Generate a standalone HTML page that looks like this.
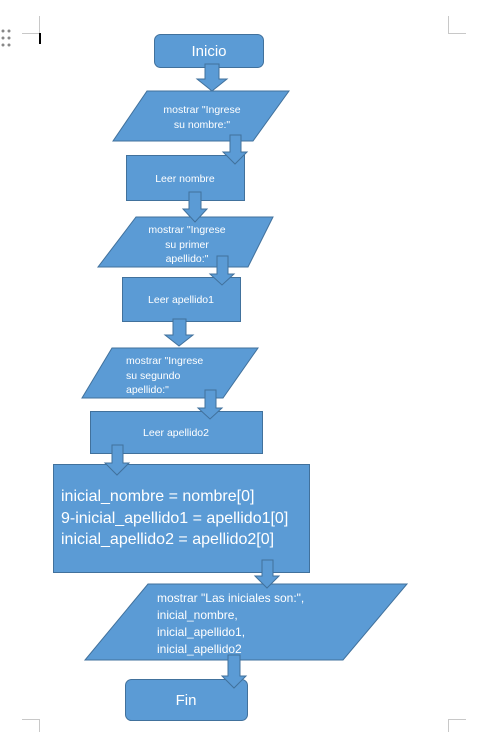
<!DOCTYPE html>
<html><head><meta charset="utf-8"><style>
html,body{margin:0;padding:0;background:#fff;width:477px;height:732px;overflow:hidden}
svg{display:block}
text{font-family:"Liberation Sans",sans-serif;fill:#fff}
</style></head><body>
<svg width="477" height="732" viewBox="0 0 477 732" xmlns="http://www.w3.org/2000/svg">
<g stroke="#c8c8c8" stroke-width="1" fill="none">
<path d="M39.5 16V33.5H22"/><path d="M448.5 16V33.5H466"/>
<path d="M22 719.5H39.5V732"/><path d="M466 719.5H448.5V732"/>
</g>
<g fill="#888"><circle cx="3" cy="31" r="1.5"/><circle cx="9" cy="31" r="1.5"/><circle cx="3" cy="38" r="1.5"/><circle cx="9" cy="38" r="1.5"/><circle cx="3" cy="45" r="1.5"/><circle cx="9" cy="45" r="1.5"/></g>
<rect x="39" y="33" width="2" height="11" fill="#000"/>
<g fill="#5b9bd5" stroke="#41719c" stroke-width="1">
<rect x="154.5" y="34.5" width="109" height="33" rx="6"/>
<polygon points="147,91 289,91 253,141 113,141"/>
<rect x="126.5" y="155.5" width="118" height="45"/>
<polygon points="136,217 273,217 248,267 98,267"/>
<rect x="122.5" y="277.5" width="118" height="44"/>
<polygon points="112,348 258,348 223,398 82,398"/>
<rect x="90.5" y="411.5" width="172" height="42"/>
<rect x="53.5" y="464.5" width="256" height="108"/>
<polygon points="148,584 407,584 343,660 85,660"/>
<rect x="125.5" y="679.5" width="122" height="41" rx="6"/>
</g>
<g fill="#5b9bd5" stroke="#41719c" stroke-width="1">
<polygon points="205,64 219,64 219,79 227,79 212,91 197,79 205,79"/>
<polygon points="230,135 241,135 241,152 247,152 235,164 223,152 230,152"/>
<polygon points="189,192 201,192 201,209 207,209 195,222 183,209 189,209"/>
<polygon points="217,256 228,256 228,274 234,274 222,285 210,274 217,274"/>
<polygon points="173,319 186,319 186,335 193,335 179,346 165,335 173,335"/>
<polygon points="205,390 216,390 216,408 222,408 210,419 198,408 205,408"/>
<polygon points="112,445 123,445 123,463 129,463 117,475 105,463 112,463"/>
<polygon points="262,560 273,560 273,576 279,576 267,588 255,576 262,576"/>
<polygon points="228,655 240,655 240,676 246,676 234,688 222,676 228,676"/>
</g>
<text x="209" y="56" font-size="15" text-anchor="middle">Inicio</text>
<g font-size="10.5" text-anchor="middle">
<text x="202" y="113">mostrar "Ingrese</text>
<text x="202" y="128">su nombre:"</text>
<text x="185" y="182">Leer nombre</text>
<text x="187" y="233">mostrar "Ingrese</text>
<text x="187" y="248">su primer</text>
<text x="187" y="262">apellido:"</text>
<text x="181" y="303">Leer apellido1</text>
<text x="176" y="436">Leer apellido2</text>
</g>
<g font-size="10.5">
<text x="126" y="364">mostrar "Ingrese</text>
<text x="126" y="379">su segundo</text>
<text x="126" y="393">apellido:"</text>
</g>
<g font-size="16">
<text x="61" y="501">inicial_nombre = nombre[0]</text>
<text x="61" y="523">9-inicial_apellido1 = apellido1[0]</text>
<text x="61" y="544">inicial_apellido2 = apellido2[0]</text>
</g>
<g font-size="12">
<text x="157" y="602">mostrar "Las iniciales son:",</text>
<text x="157" y="619">inicial_nombre,</text>
<text x="157" y="636">inicial_apellido1,</text>
<text x="157" y="653">inicial_apellido2</text>
</g>
<text x="186" y="705" font-size="15" text-anchor="middle">Fin</text>
</svg>
</body></html>
